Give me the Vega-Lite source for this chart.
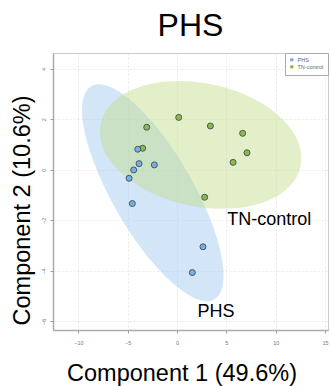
{
  "$schema": "https://vega.github.io/schema/vega-lite/v6.json",
  "width": 275,
  "height": 277,
  "autosize": {"type": "none"},
  "padding": {"left": 53, "top": 53, "right": 2, "bottom": 56},
  "background": "white",
  "title": {"text": "PHS", "fontSize": 32, "font": "Liberation Sans", "fontWeight": "normal", "color": "black", "anchor": "middle", "frame": "group", "baseline": "alphabetic", "offset": 16, "dy": 31.7},
  "config": {
    "view": {"stroke": "#cccccc", "strokeWidth": 1},
    "font": "Liberation Sans",
    "axis": {
      "titleFont": "Liberation Sans", "titleFontWeight": "normal", "titleColor": "black", "titleFontSize": 23.5,
      "labelFont": "Liberation Sans", "labelFontSize": 5.5, "labelColor": "#777777",
      "tickSize": 3, "tickColor": "#999999", "domainColor": "#aaaaaa", "domainWidth": 1.5,
      "grid": true, "gridColor": "#e3e3e3", "gridDash": [2, 2], "gridWidth": 0.8
    }
  },
  "datasets": {
    "points": [
      {"group": "TN-control", "c1": 0.17, "c2": 2.07},
      {"group": "TN-control", "c1": -3.07, "c2": 1.68},
      {"group": "TN-control", "c1": 3.38, "c2": 1.73},
      {"group": "TN-control", "c1": 6.65, "c2": 1.44},
      {"group": "TN-control", "c1": -3.48, "c2": 0.85},
      {"group": "TN-control", "c1": 7.09, "c2": 0.67},
      {"group": "TN-control", "c1": 5.68, "c2": 0.29},
      {"group": "TN-control", "c1": 2.80, "c2": -1.09},
      {"group": "PHS", "c1": -3.98, "c2": 0.81},
      {"group": "PHS", "c1": -3.85, "c2": 0.24},
      {"group": "PHS", "c1": -2.30, "c2": 0.19},
      {"group": "PHS", "c1": -4.39, "c2": -0.01},
      {"group": "PHS", "c1": -4.86, "c2": -0.34},
      {"group": "PHS", "c1": -4.53, "c2": -1.34},
      {"group": "PHS", "c1": 2.63, "c2": -3.05},
      {"group": "PHS", "c1": 1.55, "c2": -4.07}
    ],
    "ellipses": [
      {"group": "PHS", "c1": -2.45, "c2": -0.91},
      {"group": "TN-control", "c1": 2.40, "c2": 0.98}
    ],
    "labels": [
      {"label": "TN-control", "c1": 9.35, "c2": -1.99},
      {"label": "PHS", "c1": 3.95, "c2": -5.62}
    ]
  },
  "layer": [
    {
      "data": {"name": "ellipses"},
      "transform": [{"filter": "datum.group === 'PHS'"}],
      "mark": {"type": "point", "filled": true, "shape": "M0.5,0.866A1,0.325,60,1,1,-0.5,-0.866A1,0.325,60,1,1,0.5,0.866Z", "size": 60516, "fill": "#9ec8f0", "fillOpacity": 0.45, "strokeWidth": 0},
      "encoding": {
        "x": {"field": "c1", "type": "quantitative", "scale": {"domain": [-12.57, 15.3], "nice": false, "zero": false},
          "axis": {"values": [-10, -5, 0, 5, 10, 15], "title": "Component 1 (49.6%)", "labelPadding": 7, "titleX": 128.5, "titleY": 50, "titleBaseline": "alphabetic", "titleAlign": "center"}},
        "y": {"field": "c2", "type": "quantitative", "scale": {"domain": [-6.343, 4.618], "nice": false, "zero": false},
          "axis": {"values": [-6, -4, -2, 0, 2, 4], "title": "Component 2 (10.6%)", "labelAngle": -90, "labelAlign": "center", "labelBaseline": "bottom", "labelPadding": 4, "titleX": -23.7, "titleY": 157, "titleBaseline": "alphabetic", "titleAlign": "center", "titleAngle": -90}}
      }
    },
    {
      "data": {"name": "ellipses"},
      "transform": [{"filter": "datum.group === 'TN-control'"}],
      "mark": {"type": "point", "filled": true, "shape": "M0.9781,0.2079A1,0.598,12,1,1,-0.9781,-0.2079A1,0.598,12,1,1,0.9781,0.2079Z", "size": 41616, "fill": "#bfdc87", "fillOpacity": 0.45, "strokeWidth": 0},
      "encoding": {
        "x": {"field": "c1", "type": "quantitative"},
        "y": {"field": "c2", "type": "quantitative"}
      }
    },
    {
      "data": {"name": "points"},
      "mark": {"type": "point", "filled": true, "shape": "circle", "size": 36, "stroke": "#4a5866", "strokeWidth": 1, "opacity": 1},
      "encoding": {
        "x": {"field": "c1", "type": "quantitative"},
        "y": {"field": "c2", "type": "quantitative"},
        "fill": {"field": "group", "type": "nominal", "scale": {"domain": ["PHS", "TN-control"], "range": ["#78aee0", "#8cbb44"]},
          "legend": {"title": null, "orient": "top-right", "offset": 0, "strokeColor": "#aaaaaa", "fillColor": "white", "padding": 4, "labelFontSize": 5.5, "labelColor": "#666666", "symbolSize": 14, "symbolStrokeWidth": 0, "rowPadding": 0, "labelOffset": 3, "symbolType": "circle"}}
      }
    },
    {
      "data": {"name": "labels"},
      "mark": {"type": "text", "fontSize": 18, "font": "Liberation Sans", "align": "center", "baseline": "middle", "color": "black"},
      "encoding": {
        "x": {"field": "c1", "type": "quantitative"},
        "y": {"field": "c2", "type": "quantitative"},
        "text": {"field": "label"}
      }
    }
  ]
}
